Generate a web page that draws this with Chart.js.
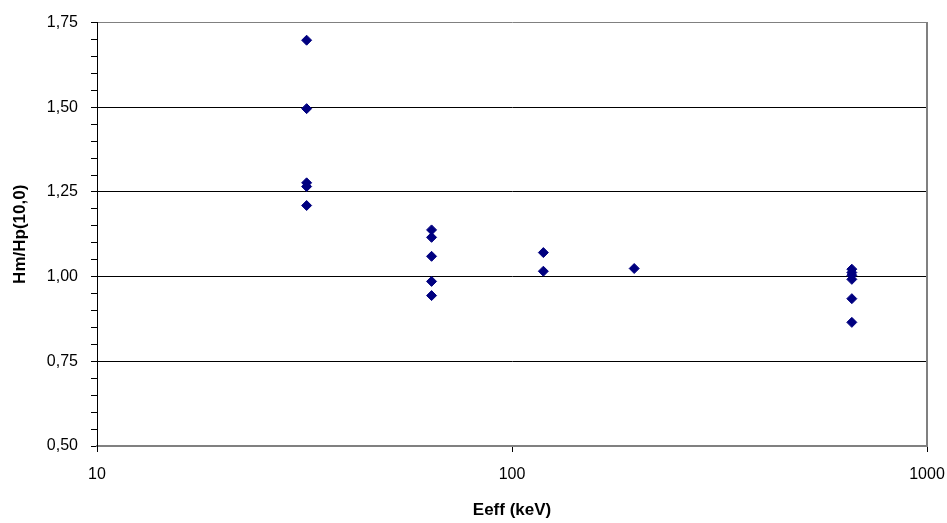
<!DOCTYPE html>
<html lang="en">
<head>
    <meta charset="UTF-8">
    <title>Hm/Hp(10,0) vs Eeff</title>
    <script src="https://cdn.jsdelivr.net/npm/chart.js"></script>
    <style>
        html, body { margin: 0; padding: 0; background: #fff; }
        #wrap { width: 947px; height: 523px; }
    </style>
</head>
<body>
    <div id="wrap">
        <canvas id="myChart" width="947" height="523"></canvas>
    </div>

    <script>
        // effective energy (keV) and measured ratio, one entry per point
        const energies = [32, 32, 32, 32, 32,
                          64, 64, 64, 64, 64,
                          119, 119,
                          197,
                          659, 659, 659, 659, 659, 659];
        const ratios = [1.698, 1.496, 1.277, 1.266, 1.21,
                        1.138, 1.116, 1.06, 0.986, 0.944,
                        1.071, 1.016,
                        1.024,
                        1.022, 1.012, 1.004, 0.992, 0.935, 0.865];
        const xTickLabels = [10, 100, 1000];
        const yMajorTicks = [0.5, 0.75, 1.0, 1.25, 1.5, 1.75];

        const points = energies.map((e, i) => ({ x: e, y: ratios[i] }));
        const isMajorY = v => yMajorTicks.some(t => Math.abs(t - v) < 1e-6);
        const isMajorX = v => xTickLabels.some(t => Math.abs(t - v) < 1e-6);

        const tickFont = { family: 'Liberation Sans, Arial, sans-serif', size: 16 };
        const titleFont = { family: 'Liberation Sans, Arial, sans-serif', size: 17, weight: 'bold' };

        const ctx = document.getElementById('myChart').getContext('2d');
        new Chart(ctx, {
            type: 'scatter',
            data: {
                datasets: [{
                    data: points,
                    pointStyle: 'rectRot',
                    pointRadius: 5,
                    pointHoverRadius: 5,
                    backgroundColor: '#000080',
                    borderColor: '#000080',
                    borderWidth: 1
                }]
            },
            options: {
                responsive: false,
                animation: false,
                layout: { padding: { top: 21, left: 0, right: 0, bottom: 0 } },
                plugins: {
                    legend: { display: false },
                    tooltip: { enabled: false }
                },
                scales: {
                    x: {
                        type: 'logarithmic',
                        min: 10,
                        max: 1000,
                        afterFit: s => { s.height = 77; s.paddingLeft = 0; s.paddingRight = 0; },
                        border: { color: '#808080', width: 2 },
                        grid: {
                            drawOnChartArea: false,
                            tickLength: 6,
                            tickColor: c => isMajorX(c.tick.value) ? '#000' : 'rgba(0,0,0,0)'
                        },
                        ticks: {
                            autoSkip: false,
                            maxRotation: 0,
                            padding: 13,
                            color: '#000',
                            font: tickFont,
                            callback: v => isMajorX(v) ? String(v) : ''
                        },
                        title: {
                            display: true,
                            text: 'Eeff (keV)',
                            color: '#000',
                            padding: { top: 0, bottom: 2 },
                            font: titleFont
                        }
                    },
                    y: {
                        min: 0.5,
                        max: 1.75,
                        afterFit: s => { s.width = 97; },
                        border: { color: '#000', width: 1 },
                        grid: {
                            tickLength: 6,
                            tickColor: '#000',
                            color: c => {
                                const v = c.tick.value;
                                if (Math.abs(v - 1.75) < 1e-6) return '#808080';
                                if (Math.abs(v - 0.5) < 1e-6) return 'rgba(0,0,0,0)';
                                return isMajorY(v) ? '#000' : 'rgba(0,0,0,0)';
                            }
                        },
                        ticks: {
                            stepSize: 0.05,
                            autoSkip: false,
                            padding: 13,
                            color: '#000',
                            font: tickFont,
                            callback: v => isMajorY(v) ? v.toFixed(2).replace('.', ',') : ''
                        },
                        title: {
                            display: true,
                            text: 'Hm/Hp(10,0)',
                            color: '#000',
                            padding: { top: 10, bottom: 0 },
                            font: titleFont
                        }
                    },
                    y2: {
                        position: 'right',
                        min: 0.5,
                        max: 1.75,
                        afterFit: s => { s.width = 20; },
                        border: { color: '#808080', width: 2 },
                        grid: { display: false },
                        ticks: { display: false }
                    }
                }
            }
        });
    </script>
</body>
</html>
